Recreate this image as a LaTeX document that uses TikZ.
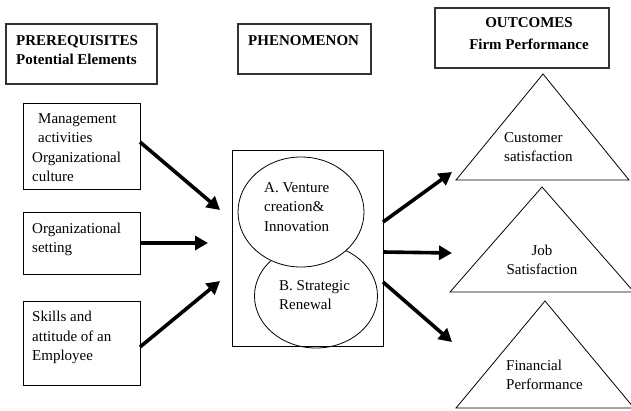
\documentclass[tikz,border=0pt]{standalone}
\usepackage{fontspec}
\setmainfont{Liberation Serif}
\usetikzlibrary{arrows.meta}
\begin{document}
\begin{tikzpicture}[x=1pt,y=-1pt,
  box/.style={draw,line width=0.8pt,inner sep=0pt,outer sep=0pt,anchor=north west},
  headbox/.style={draw=black!80,line width=1.2pt,inner sep=0pt,outer sep=0pt,anchor=north west},
  txt/.style={anchor=base west,inner sep=0pt,font=\fontsize{15}{19.5}\selectfont},
  htxt/.style={anchor=base west,inner sep=0pt,font=\fontsize{15}{19}\selectfont\bfseries},
  ell/.style={draw,line width=0.8pt,ellipse,inner sep=0pt,fill=white},
  tri/.style={draw,line width=0.8pt},
  arr/.style={line width=3.6pt,-{Triangle[length=13pt,width=14pt]}}
]
\useasboundingbox (0,0) rectangle (631,410);
\begin{scope}
\clip (0,0) rectangle (631,410);
% header boxes
\node[headbox,minimum width=151pt,minimum height=60pt] (hp) at (6,24) {};
\node[headbox,minimum width=133pt,minimum height=50pt] (hph) at (238,24) {};
\node[headbox,minimum width=174pt,minimum height=60pt] (ho) at (435,8) {};
\node[htxt] (hpt) at (16,45) {\begin{tabular}[t]{@{}l@{}}PREREQUISITES\\Potential Elements\end{tabular}};
\node[htxt] (hpht) at (248,45) {PHENOMENON};
\node[htxt,anchor=base] (hot) at (529,27) {\begin{tabular}[t]{@{}c@{}}OUTCOMES\\[3pt]Firm Performance\end{tabular}};
% left boxes
\node[box,minimum width=117pt,minimum height=86pt] (m1) at (23,103) {};
\node[box,minimum width=117pt,minimum height=62pt] (m2) at (23,212) {};
\node[box,minimum width=117pt,minimum height=84pt] (m3) at (23,301) {};
\node[txt] (t1) at (32,123) {\begin{tabular}[t]{@{}l@{}}\hspace{6pt}Management\\\hspace{6pt}activities\\Organizational\\culture\end{tabular}};
\node[txt] (t2) at (32,233) {\begin{tabular}[t]{@{}l@{}}Organizational\\setting\end{tabular}};
\node[txt] (t3) at (32,321.5) {\begin{tabular}[t]{@{}l@{}}Skills and\\attitude of an\\Employee\end{tabular}};
% center
\node[box,minimum width=151pt,minimum height=196pt] (c) at (232,150) {};
\draw[line width=0.8pt] (316,296) ellipse [x radius=61.5pt,y radius=52pt];
\draw[line width=0.8pt,fill=white] (301,212) ellipse [x radius=63pt,y radius=55pt];
\node[txt] (ta) at (264,192) {\begin{tabular}[t]{@{}l@{}}A. Venture\\creation\&\\Innovation\end{tabular}};
\node[txt] (tb) at (279,290) {\begin{tabular}[t]{@{}l@{}}B. Strategic\\Renewal\end{tabular}};
% triangles
\draw[tri] (543,74) -- (456,180) -- (629,180) -- cycle;
\draw[tri] (542,187) -- (450,292) -- (634,292) -- cycle;
\draw[tri] (545,301) -- (456,408) -- (634,408) -- cycle;
\node[txt] (r1) at (504,142) {\begin{tabular}[t]{@{}l@{}}Customer\\satisfaction\end{tabular}};
\node[txt,anchor=base] (r2) at (542,255) {\begin{tabular}[t]{@{}c@{}}Job\\Satisfaction\end{tabular}};
\node[txt] (r3) at (506,370) {\begin{tabular}[t]{@{}l@{}}Financial\\Performance\end{tabular}};
% arrows
\coordinate (e1) at (220,210);
\coordinate (e2) at (208,243);
\coordinate (e3) at (220,281);
\coordinate (f1) at (452,172);
\coordinate (f2) at (452,253);
\coordinate (f3) at (452,342);
\draw[arr] ([yshift=4pt]m1.east) -- (e1);
\draw[arr] (m2.east) -- (e2);
\draw[arr] ([yshift=-4pt]m3.east) -- (e3);
\draw[arr] ([yshift=26pt]c.east) -- (f1);
\draw[arr] ([yshift=-4pt]c.east) -- (f2);
\draw[arr] ([yshift=-34pt]c.east) -- (f3);
\end{scope}
\end{tikzpicture}
\end{document}
